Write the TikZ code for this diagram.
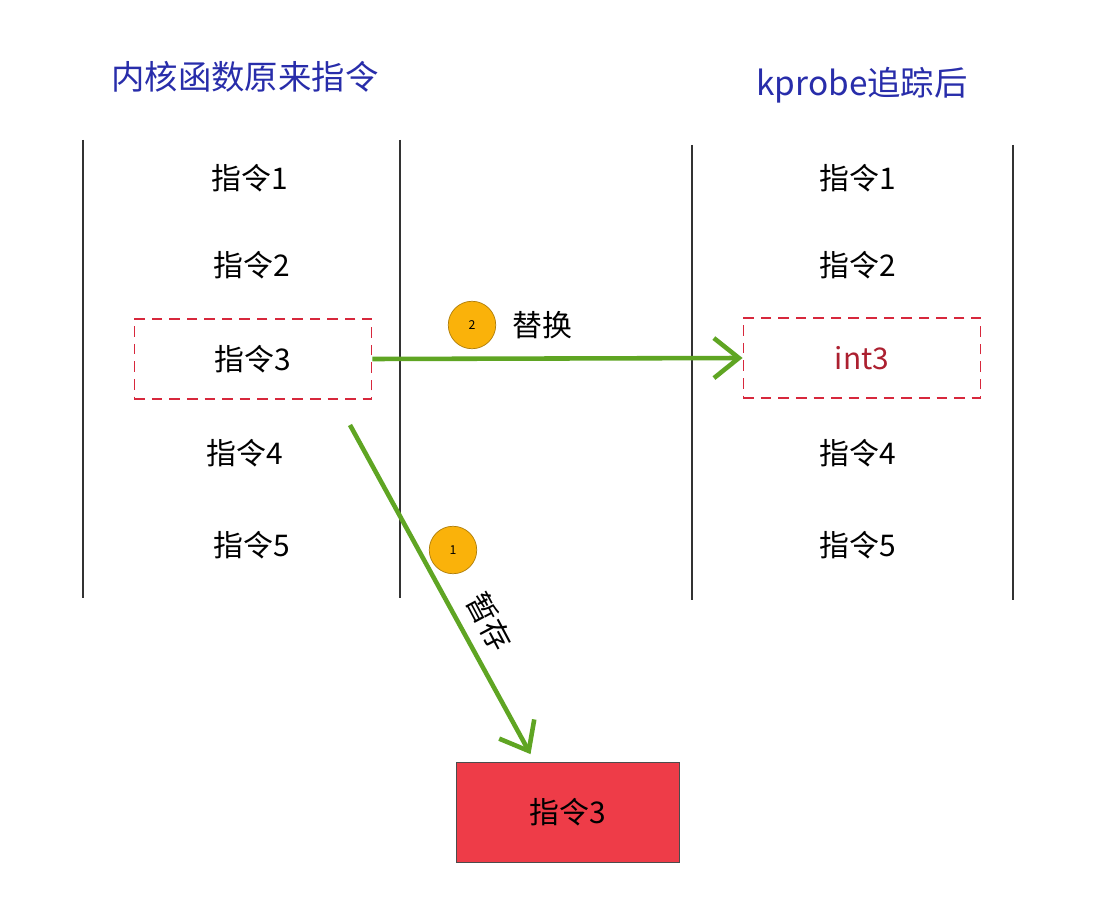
\documentclass[tikz,border=0pt]{standalone}
\usepackage{fontspec}
\setmainfont{Noto Sans CJK SC}
\usetikzlibrary{positioning,calc,arrows.meta}
\definecolor{ttlblue}{RGB}{40,45,170}
\definecolor{arrgreen}{RGB}{95,165,35}
\definecolor{dashred}{RGB}{215,40,60}
\definecolor{boxred}{RGB}{238,60,72}
\definecolor{badge}{RGB}{250,178,10}
\tikzstyle{ins}=[font=\fontsize{17}{20}\selectfont, text=black]
\tikzstyle{dbox}=[draw=dashred, dashed, dash pattern=on 6pt off 4pt, thick, minimum width=4.75cm, minimum height=1.6cm]
\tikzstyle{rail}=[draw=black!80, thick]
\tikzstyle{mover}=[draw=arrgreen, line width=2.6pt, -{Straight Barb[length=5mm,width=8mm]}]
\tikzstyle{numc}=[circle, fill=badge, draw=badge!70!black, minimum size=0.95cm, inner sep=0pt, font=\scriptsize]
\begin{document}
\begin{tikzpicture}[x=0.02cm,y=-0.02cm]
\useasboundingbox (0,0) rectangle (1100,922);
\fill[white] (0,0) rectangle (1100,922);

\node (ttlL) [text=ttlblue, font=\fontsize{19}{22}\selectfont] at (245,77) {内核函数原来指令};
\node (ttlR) [text=ttlblue, font=\fontsize{19}{22}\selectfont] at (862,85) {kprobe追踪后};

% rails
\draw[rail] (83,140) -- (83,598);
\draw[rail] (400,140) -- (400,598);
\draw[rail] (692,145) -- (692,600);
\draw[rail] (1013,145) -- (1013,600);

% original column
\node (L1) [ins] at (250,178) {指令1};
\node (L2) [ins] at (252,265) {指令2};
\node (L3) [ins, dbox] at (253,359) {指令3};
\node (L4) [ins] at (245,453) {指令4};
\node (L5) [ins] at (252,545) {指令5};

% traced column
\node (R1) [ins] at (858,178) {指令1};
\node (R2) [ins] at (858,265) {指令2};
\node (R3) [dbox, text=dashred!80!black, font=\fontsize{17}{20}\selectfont] at (862,358) {int3};
\node (R4) [ins] at (858,453) {指令4};
\node (R5) [ins] at (858,545) {指令5};

% saved copy
\node (SAVE) [ins, fill=boxred, draw=black!70, minimum width=4.45cm, minimum height=2cm] at (568,812) {指令3};

% arrows
\draw[mover] (L3.east) -- (R3.west);
\node (N2) [numc] at (472,325) {2};
\node (T2) [ins, right=6pt of N2] {替换};

\coordinate (S0) at (350,425);
\draw[mover] (S0) -- ([xshift=-0.75cm,yshift=0.15cm]SAVE.north);
\node (N1) [numc] at (453,550) {1};
\node (T1) [ins, rotate=-62] at (490,622) {暂存};

\end{tikzpicture}
\end{document}
